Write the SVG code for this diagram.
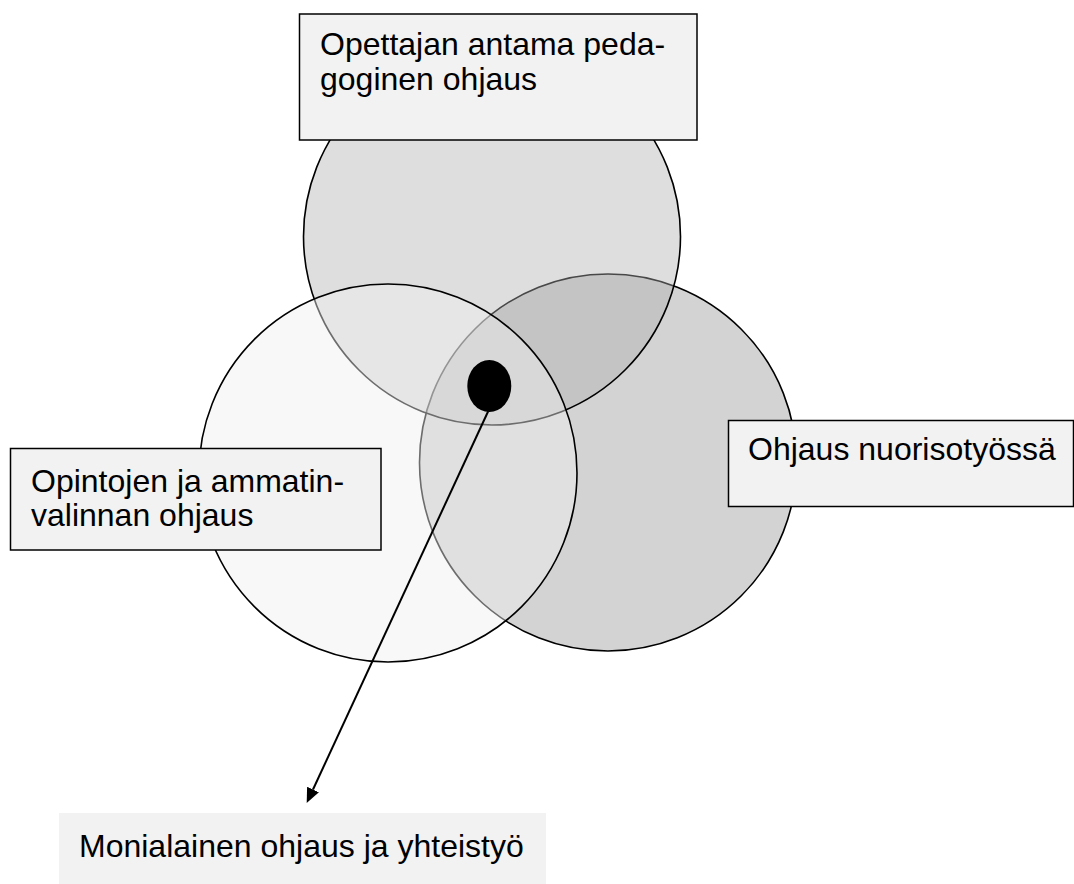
<svg xmlns="http://www.w3.org/2000/svg" width="1074" height="884" viewBox="0 0 1074 884">
<defs>
<style>
.circ{stroke:#000;stroke-width:1.6}
.box{fill:#f2f2f2;stroke:#000;stroke-width:1.5}
.lbl{font-family:"Liberation Sans",Arial,sans-serif;font-size:32px;fill:#000}
</style>
<marker id="ah" markerUnits="userSpaceOnUse" markerWidth="16" markerHeight="14" refX="0" refY="6.5" orient="auto">
<path d="M0,0 L15,6.5 L0,13 z" fill="#000"/>
</marker>
</defs>
<rect width="1074" height="884" fill="#fff"/>
<g id="circle-right"><circle class="circ" cx="608" cy="462.5" r="188.5" fill="#d3d3d3"/></g>
<g id="circle-top"><circle class="circ" cx="492" cy="236.5" r="188.5" fill="#aeaeae" fill-opacity="0.41"/></g>
<g id="circle-left"><circle class="circ" cx="388" cy="473" r="189" fill="#f0f0f0" fill-opacity="0.455"/></g>
<g id="node-top">
<rect class="box" x="299.5" y="14" width="397.5" height="126"/>
<text class="lbl" x="320" y="55">Opettajan antama peda-</text>
<text class="lbl" x="320" y="90">goginen ohjaus</text>
</g>
<g id="node-left">
<rect class="box" x="10.5" y="448.5" width="370.5" height="101.5"/>
<text class="lbl" x="31" y="492">Opintojen ja ammatin-</text>
<text class="lbl" x="31" y="526">valinnan ohjaus</text>
</g>
<g id="node-right">
<rect class="box" x="728.5" y="420.5" width="345" height="86"/>
<text class="lbl" x="748" y="460">Ohjaus nuorisotyössä</text>
</g>
<g id="node-bottom">
<rect x="59" y="813" width="487" height="71" fill="#f2f2f2"/>
<text class="lbl" x="79" y="857">Monialainen ohjaus ja yhteistyö</text>
</g>
<g id="node-center"><ellipse cx="489.3" cy="386" rx="22" ry="26" fill="#000"/></g>
<g id="connectors">
<line x1="488.3" y1="411" x2="313" y2="789.5" stroke="#000" stroke-width="2" marker-end="url(#ah)"/>
</g>
</svg>
